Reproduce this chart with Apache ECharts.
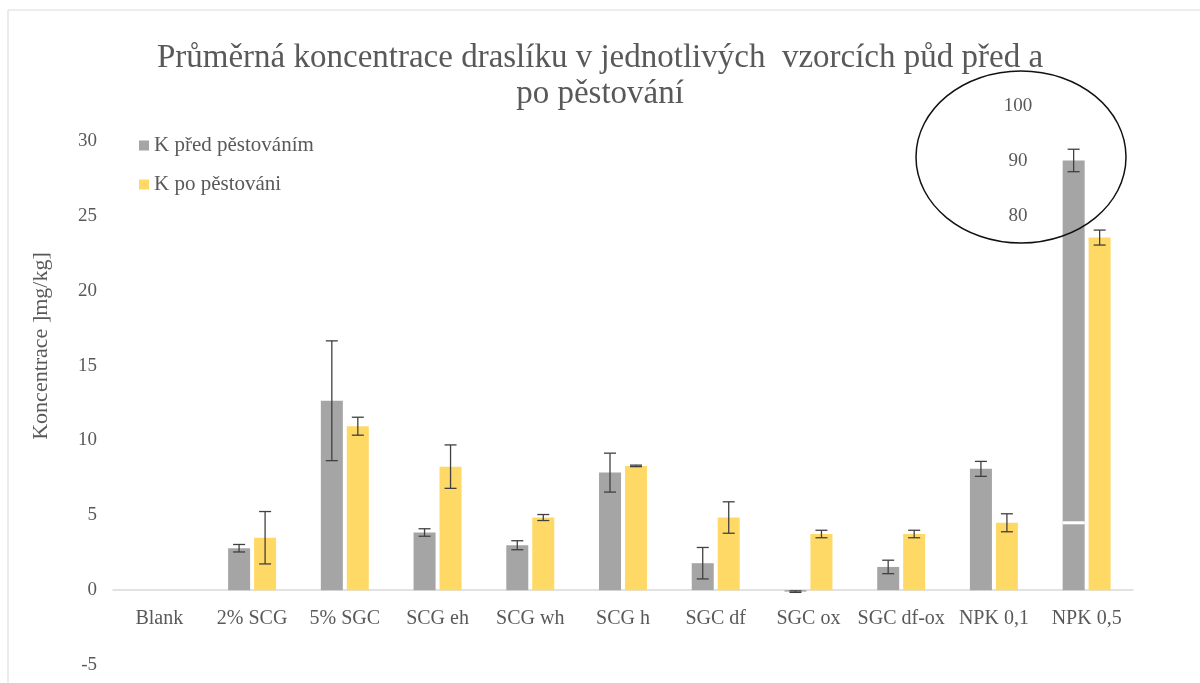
<!DOCTYPE html>
<html>
<head>
<meta charset="utf-8">
<script src="https://cdn.jsdelivr.net/npm/echarts@6/dist/echarts.min.js"></script>
<style>
html, body { margin: 0; padding: 0; background: #fff; }
#chart { width: 1200px; height: 683px; }
</style>
</head>
<body>
<div id="chart"></div>
<script>
const categories = ['Blank', '2% SCG', '5% SGC', 'SCG eh', 'SCG wh', 'SCG h', 'SGC df', 'SGC ox', 'SGC df-ox', 'NPK 0,1', 'NPK 0,5'];
const beforeValues = [0, 2.8, 12.65, 3.85, 3.0, 7.85, 1.8, -0.1, 1.55, 8.1, 28.7];
const beforeErrors = [null, 0.25, 4.0, 0.25, 0.3, 1.3, 1.05, 0.05, 0.45, 0.5, 0.75];
const afterValues = [0, 3.5, 10.95, 8.25, 4.85, 8.3, 4.85, 3.75, 3.75, 4.5, 23.55];
const afterErrors = [null, 1.75, 0.6, 1.45, 0.2, 0.05, 1.05, 0.25, 0.25, 0.6, 0.5];
const yTicks = { min: -5, max: 30, interval: 5 };
// hand-drawn broken-axis note over the last bar
const breakLabels = ['100', '90', '80'];
const breakCategory = 10;
const breakValue = 4.5;

const FONT = 'Liberation Serif';
const TEXT = '#595959';
const BAR_W = 22;
const HALF = 13; // half of bar width + gap

function errorSeries(values, errors, offset) {
    const data = [];
    values.forEach((v, i) => {
        if (errors[i] != null) data.push([i, v - errors[i], v + errors[i]]);
    });
    return {
        type: 'custom',
        z: 5,
        silent: true,
        data: data,
        renderItem: function (params, api) {
            const lo = api.coord([api.value(0), api.value(1)]);
            const hi = api.coord([api.value(0), api.value(2)]);
            const x = lo[0] + offset;
            const style = { stroke: '#404040', lineWidth: 1.3 };
            return {
                type: 'group',
                children: [
                    { type: 'line', shape: { x1: x, y1: lo[1], x2: x, y2: hi[1] }, style: style },
                    { type: 'line', shape: { x1: x - 6, y1: lo[1], x2: x + 6, y2: lo[1] }, style: style },
                    { type: 'line', shape: { x1: x - 6, y1: hi[1], x2: x + 6, y2: hi[1] }, style: style }
                ]
            };
        }
    };
}

const chart = echarts.init(document.getElementById('chart'));

chart.setOption({
    animation: false,
    backgroundColor: '#fff',
    title: {
        text: 'Průměrná koncentrace draslíku v jednotlivých  vzorcích půd před a\npo pěstování',
        left: 'center',
        top: 35,
        textStyle: { fontFamily: FONT, fontSize: 33, fontWeight: 'normal', color: TEXT, lineHeight: 36 }
    },
    legend: {
        orient: 'vertical',
        left: 134,
        top: 130,
        itemWidth: 10,
        itemHeight: 10,
        itemGap: 18,
        icon: 'rect',
        data: ['K před pěstováním', 'K po pěstováni'],
        textStyle: { fontFamily: FONT, fontSize: 21, color: TEXT }
    },
    grid: { left: 113, right: 67, top: 141, bottom: 18, outerBoundsMode: 'none' },
    xAxis: {
        type: 'category',
        data: categories,
        axisLine: { onZero: true, lineStyle: { color: '#d9d9d9', width: 1.5 } },
        axisTick: { show: false },
        // labels sit just under the zero line, not at the grid bottom
        axisLabel: { fontFamily: FONT, fontSize: 20, color: TEXT, margin: -56, interval: 0 }
    },
    yAxis: {
        type: 'value',
        min: yTicks.min,
        max: yTicks.max,
        interval: yTicks.interval,
        splitLine: { show: false },
        axisLine: { show: false },
        axisLabel: { fontFamily: FONT, fontSize: 19, color: TEXT, margin: 16 }
    },
    series: [
        {
            name: 'K před pěstováním',
            type: 'bar',
            data: beforeValues,
            barWidth: BAR_W,
            barGap: '18%',
            itemStyle: { color: '#a5a5a5' }
        },
        {
            name: 'K po pěstováni',
            type: 'bar',
            data: afterValues,
            barWidth: BAR_W,
            itemStyle: { color: '#ffd966' }
        },
        errorSeries(beforeValues, beforeErrors, -HALF),
        errorSeries(afterValues, afterErrors, HALF),
        {
            type: 'custom',
            z: 6,
            silent: true,
            data: [[breakCategory, breakValue]],
            renderItem: function (params, api) {
                const p = api.coord([api.value(0), api.value(1)]);
                return {
                    type: 'rect',
                    shape: { x: p[0] - HALF - BAR_W / 2, y: p[1] - 1.5, width: BAR_W, height: 3 },
                    style: { fill: '#fff' }
                };
            }
        }
    ],
    graphic: [
        {
            type: 'rect',
            shape: { x: 8, y: 10, width: 1200, height: 700 },
            style: { fill: 'none', stroke: '#d9d9d9', lineWidth: 1 }
        },
        {
            type: 'text',
            x: 41,
            y: 346,
            rotation: Math.PI / 2,
            style: {
                text: 'Koncentrace ]mg/kg]',
                font: '22px "' + FONT + '"',
                fill: TEXT,
                align: 'center',
                verticalAlign: 'middle'
            }
        },
        {
            type: 'ellipse',
            shape: { cx: 1021, cy: 157, rx: 105, ry: 86 },
            style: { fill: 'none', stroke: '#111', lineWidth: 1.5 },
            z: 10
        },
        ...breakLabels.map((t, i) => ({
            type: 'text',
            x: 1018,
            y: 106 + i * 55,
            z: 10,
            style: {
                text: t,
                font: '19px "' + FONT + '"',
                fill: TEXT,
                align: 'center',
                verticalAlign: 'middle'
            }
        }))
    ]
});
</script>
</body>
</html>
